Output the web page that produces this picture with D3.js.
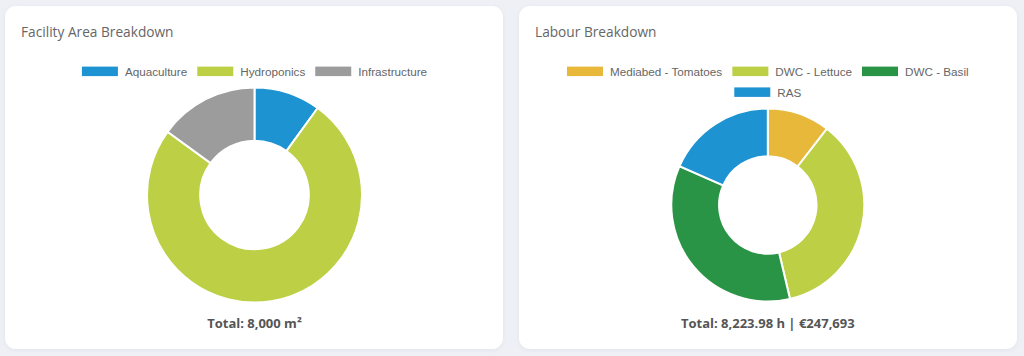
<!DOCTYPE html>
<html><head><meta charset="utf-8">
<script src="https://cdn.jsdelivr.net/npm/d3@7"></script>
<style>
html,body{margin:0;padding:0;background:#eef0f5;}
svg{display:block;}
</style></head>
<body>
<svg id="c" width="1024" height="356"></svg>
<script>
// ---- data ----
const areaCategories = ["Aquaculture", "Hydroponics", "Infrastructure"];
const areaValues = [800, 6000, 1200];
const areaColors = ["#1e93d2", "#bdcf45", "#9c9c9c"];
const areaTitle = "Facility Area Breakdown";
const areaTotal = "Total: 8,000 m²";

const labourCategories = ["Mediabed - Tomatoes", "DWC - Lettuce", "DWC - Basil", "RAS"];
const labourValues = [863.5, 2944.2, 2903.1, 1513.18];
const labourColors = ["#e8b83a", "#bdcf45", "#2a9446", "#1e93d2"];
const labourTitle = "Labour Breakdown";
const labourTotal = "Total: 8,223.98 h | €247,693";

const svg = d3.select("#c");
const defs = svg.append("defs");
const f = defs.append("filter").attr("id","sh").attr("x","-5%").attr("y","-5%").attr("width","110%").attr("height","115%");
f.append("feDropShadow").attr("dx",0).attr("dy",1).attr("stdDeviation",2).attr("flood-color","#9aa0b8").attr("flood-opacity",0.15);

const LFS = 11.7;
function card(cfg){
  const g = svg.append("g");
  g.append("rect").attr("x",cfg.x).attr("y",6).attr("width",498).attr("height",343)
    .attr("rx",11).attr("fill","#fff").attr("filter","url(#sh)");
  g.append("text").attr("x",cfg.x+16).attr("y",37).text(cfg.title)
    .attr("font-family","'Open Sans', sans-serif").attr("font-size",13.7).attr("fill","#666");
  // legend
  const ctx = document.createElement("canvas").getContext("2d");
  ctx.font = LFS + "px 'Liberation Sans', Arial, sans-serif";
  const items = cfg.cats.map((c,i)=>({c, col:cfg.colors[i], w:36+7+ctx.measureText(c).width}));
  const rows=[]; let cur=[], cw=0; const maxW=440;
  items.forEach(it=>{ const add = (cur.length?10:0)+it.w; if(cw+add>maxW && cur.length){rows.push(cur);cur=[];cw=0;} cw+=(cur.length?10:0)+it.w; cur.push(it);});
  if(cur.length) rows.push(cur);
  rows.forEach((r,ri)=>{
    const tw = d3.sum(r,d=>d.w)+10*(r.length-1);
    let xx = cfg.cx - tw/2;
    const yy = 66.6 + ri*20.8;
    r.forEach(it=>{
      g.append("rect").attr("x",xx).attr("y",yy).attr("width",36).attr("height",9.5).attr("fill",it.col);
      g.append("text").attr("x",xx+43).attr("y",yy+9.2).text(it.c)
        .attr("font-family","'Liberation Sans', Arial, sans-serif").attr("font-size",LFS).attr("fill","#666");
      xx += it.w + 10;
    });
  });
  const pie = d3.pie().sort(null).value(d=>d);
  const arc = d3.arc().innerRadius(cfg.r*0.505).outerRadius(cfg.r);
  const pg = g.append("g").attr("transform",`translate(${cfg.cx},${cfg.cy})`);
  pg.selectAll("path").data(pie(cfg.vals)).join("path")
    .attr("d",arc).attr("fill",(d,i)=>cfg.colors[i]).attr("stroke","#fff").attr("stroke-width",2);
  g.append("text").attr("x",cfg.cx).attr("y",328).attr("text-anchor","middle").text(cfg.total)
    .attr("font-family","'Open Sans', sans-serif").attr("font-weight",700).attr("font-size",13).attr("fill","#555");
}
card({x:5, cx:254.5, cy:195, r:107.5, title:areaTitle, cats:areaCategories, vals:areaValues, colors:areaColors, total:areaTotal});
card({x:519, cx:767.8, cy:205, r:96.5, title:labourTitle, cats:labourCategories, vals:labourValues, colors:labourColors, total:labourTotal});
</script>
</body></html>
